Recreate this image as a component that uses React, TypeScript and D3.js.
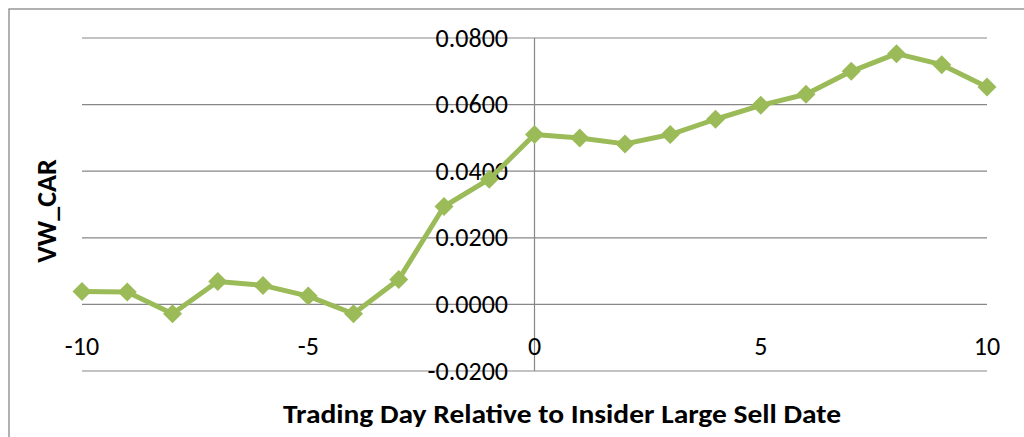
import React from "react";
import * as d3 from "d3";

const days: number[] = [-10, -9, -8, -7, -6, -5, -4, -3, -2, -1, 0, 1, 2, 3, 4, 5, 6, 7, 8, 9, 10];
const vwCar: number[] = [
  0.0039, 0.0037, -0.0028, 0.0069, 0.0057, 0.0025, -0.0028, 0.0075, 0.0294, 0.0376,
  0.051, 0.05, 0.0482, 0.051, 0.0556, 0.0598, 0.0631, 0.07, 0.0753, 0.072, 0.0653,
];
const yTicks: number[] = [-0.02, 0, 0.02, 0.04, 0.06, 0.08];
const xTicks: number[] = [-10, -5, 0, 5, 10];
const yTitle = "VW_CAR";
const xTitle = "Trading Day Relative to Insider Large Sell Date";

const W = 1024;
const H = 437;
const FONT = "Carlito, Calibri, 'Open Sans', sans-serif";

export default function App() {
  const x = d3.scaleLinear().domain([-10, 10]).range([82, 987]);
  const y = d3.scaleLinear().domain([-0.02, 0.08]).range([371, 38]);
  const line = d3
    .line<number>()
    .x((_, i) => x(days[i]))
    .y((v) => y(v));
  const diamond = d3.symbol().type(d3.symbolSquare).size(180)();
  const lineColor = "#9BBB59";
  const grid = "#878787";

  return (
    <svg
      width={W}
      height={H}
      style={{ position: "absolute", left: 0, top: 0, background: "#fff" }}
      fontFamily={FONT}
    >
      <rect x={0} y={0} width={W} height={H} fill="#fff" />
      <rect x={9} y={9} width={W + 50} height={H + 50} fill="none" stroke={grid} strokeWidth={1.3} />
      {yTicks.map((t) => (
        <line key={"g" + t} x1={x(-10)} x2={x(10)} y1={y(t)} y2={y(t)} stroke={grid} strokeWidth={1.2} />
      ))}
      <line x1={x(0)} x2={x(0)} y1={y(0.08)} y2={y(-0.02)} stroke={grid} strokeWidth={1.2} />
      {yTicks.map((t) => (
        <text key={"yl" + t} x={508} y={y(t)} dy="0.33em" textAnchor="end" fontSize={26} fill="#000">
          {t.toFixed(4)}
        </text>
      ))}
      {xTicks.map((t) => (
        <text key={"xl" + t} x={x(t)} y={355} textAnchor="middle" fontSize={26} fill="#000">
          {t}
        </text>
      ))}
      <path d={line(vwCar) || ""} fill="none" stroke={lineColor} strokeWidth={5} strokeLinejoin="round" />
      {vwCar.map((v, i) => (
        <path
          key={"m" + i}
          d={diamond || ""}
          transform={`translate(${x(days[i])},${y(v)}) rotate(45)`}
          fill={lineColor}
        />
      ))}
      <text
        transform={`translate(56,211) rotate(-90)`}
        textAnchor="middle"
        fontSize={28}
        fontWeight="bold"
        fill="#000"
      >
        {yTitle}
      </text>
      <text
        x={562}
        y={423}
        textAnchor="middle"
        fontSize={26}
        fontWeight="bold"
        fill="#000"
        textLength={558}
        lengthAdjust="spacingAndGlyphs"
      >
        {xTitle}
      </text>
    </svg>
  );
}
